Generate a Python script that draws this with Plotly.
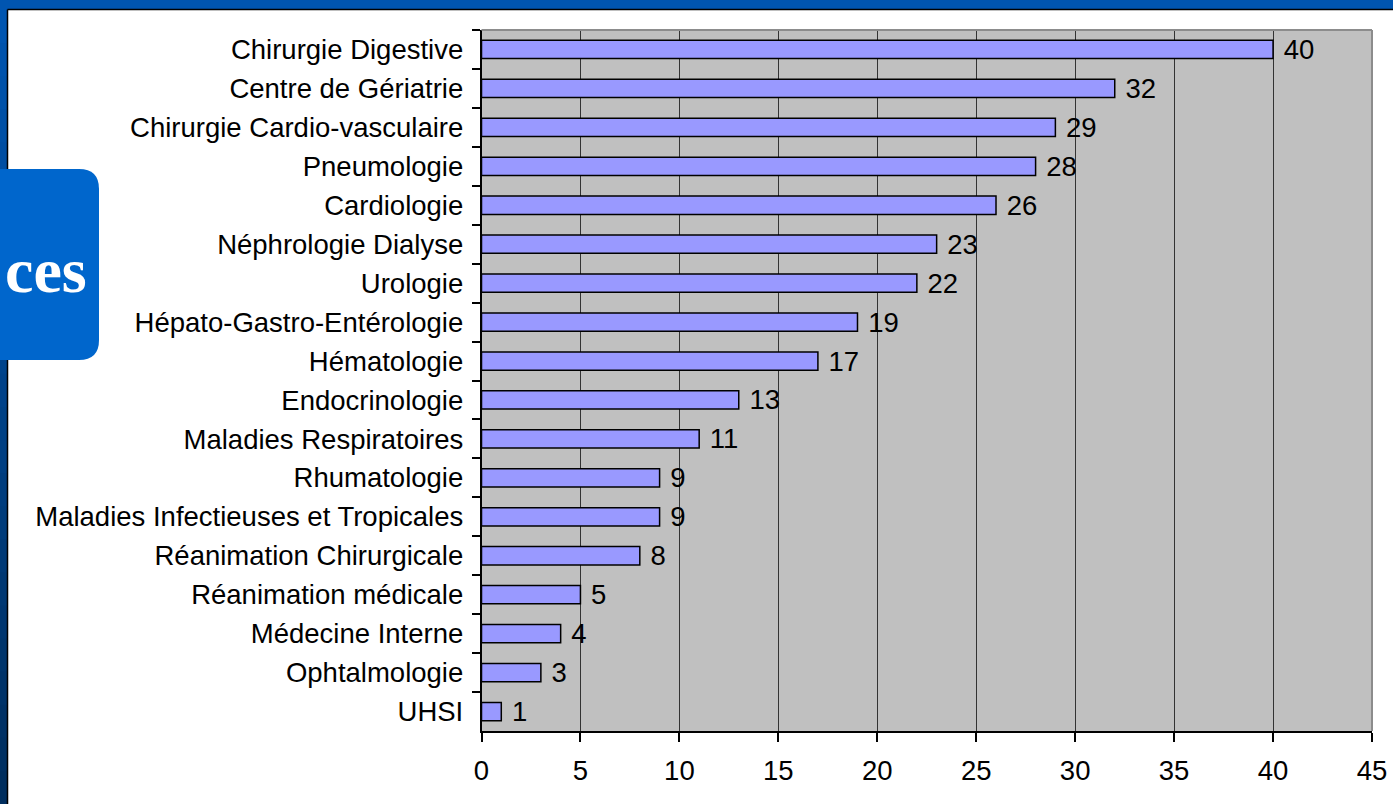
import plotly.graph_objects as go

categories = [
    "Chirurgie Digestive", "Centre de Gériatrie", "Chirurgie Cardio-vasculaire",
    "Pneumologie", "Cardiologie", "Néphrologie Dialyse", "Urologie",
    "Hépato-Gastro-Entérologie", "Hématologie", "Endocrinologie",
    "Maladies Respiratoires", "Rhumatologie", "Maladies Infectieuses et Tropicales",
    "Réanimation Chirurgicale", "Réanimation médicale", "Médecine Interne",
    "Ophtalmologie", "UHSI",
]
values = [40, 32, 29, 28, 26, 23, 22, 19, 17, 13, 11, 9, 9, 8, 5, 4, 3, 1]
x_ticks = [0, 5, 10, 15, 20, 25, 30, 35, 40, 45]
box_text = "ces"

W, H = 1393, 804
def px(x):
    return x / W
def py(y):
    return 1 - y / H

FONT = "Liberation Sans, Arial, sans-serif"
FS = 27.5

fig = go.Figure()
fig.add_trace(go.Bar(
    y=categories, x=values, orientation="h",
    marker=dict(color="#9999FF", line=dict(color="#000000", width=1.5)),
    text=[" " + str(v) for v in values], textposition="outside",
    textfont=dict(family=FONT, size=FS, color="#000000"),
    constraintext="none", cliponaxis=False, width=0.47,
    hoverinfo="skip",
))

shapes = []
# blue slide background
shapes.append(dict(type="rect", xref="paper", yref="paper", x0=0, x1=1, y0=0, y1=1,
                   fillcolor="#0055B0", line=dict(width=0), layer="below"))
# left strip gradient
n = 24
c0 = (0x00, 0x55, 0xB0)
c1 = (0x00, 0x2E, 0x5E)
for i in range(n):
    t = i / (n - 1)
    c = tuple(int(round(a + (b - a) * t)) for a, b in zip(c0, c1))
    shapes.append(dict(type="rect", xref="paper", yref="paper",
                       x0=0, x1=px(8), y0=py(10 + (H - 10) * (i + 1) / n) - 0.001,
                       y1=py(10 + (H - 10) * i / n),
                       fillcolor="rgb(%d,%d,%d)" % c, line=dict(width=0), layer="below"))
# white panel
shapes.append(dict(type="rect", xref="paper", yref="paper", x0=px(8), x1=1, y0=0, y1=py(10),
                   fillcolor="#FFFFFF", line=dict(width=0), layer="below"))
shapes.append(dict(type="line", xref="paper", yref="paper", x0=px(7.5), x1=1, y0=py(9.5), y1=py(9.5),
                   line=dict(color="#000000", width=1.5), layer="below"))
shapes.append(dict(type="line", xref="paper", yref="paper", x0=px(7.5), x1=px(7.5), y0=0, y1=py(9.5),
                   line=dict(color="#000000", width=1.5), layer="below"))
# rounded blue box
bx0, bx1, by0, by1, r = -20, 99, 169, 360, 20
rx, ry = r / W, r / H
path = (f"M {px(bx0)},{py(by0)} L {px(bx1) - rx},{py(by0)} "
        f"Q {px(bx1)},{py(by0)} {px(bx1)},{py(by0) - ry} "
        f"L {px(bx1)},{py(by1) + ry} "
        f"Q {px(bx1)},{py(by1)} {px(bx1) - rx},{py(by1)} "
        f"L {px(bx0)},{py(by1)} Z")
shapes.append(dict(type="path", xref="paper", yref="paper", path=path,
                   fillcolor="#0066CC", line=dict(width=0), layer="below"))
# plot area background (gray) and top/right gray border
x_dom = [px(481.5), px(1372)]
y_dom = [py(731), py(30)]
shapes.append(dict(type="rect", xref="paper", yref="paper", x0=x_dom[0], x1=x_dom[1],
                   y0=y_dom[0], y1=y_dom[1], fillcolor="#C0C0C0", line=dict(width=0),
                   layer="below"))
shapes.append(dict(type="line", xref="paper", yref="paper", x0=x_dom[0], x1=x_dom[1],
                   y0=y_dom[1], y1=y_dom[1], line=dict(color="#8C8C8C", width=2)))
shapes.append(dict(type="line", xref="paper", yref="paper", x0=x_dom[1], x1=x_dom[1],
                   y0=y_dom[0], y1=y_dom[1], line=dict(color="#8C8C8C", width=2)))

fig.update_layout(
    width=W, height=H,
    margin=dict(l=0, r=0, t=0, b=0),
    paper_bgcolor="#FFFFFF", plot_bgcolor="#C0C0C0",
    showlegend=False, bargap=0.53,
    shapes=shapes,
    annotations=[dict(text=box_text, xref="paper", yref="paper", x=px(89), y=py(270),
                      xanchor="right", yanchor="middle", showarrow=False,
                      font=dict(family="Liberation Serif, Times New Roman, serif",
                                size=64, color="#FFFFFF", weight="bold"))],
    xaxis=dict(domain=x_dom, range=[0, 45], tickvals=x_ticks,
               ticktext=[str(t) for t in x_ticks],
               showgrid=True, gridcolor="#333333", gridwidth=1,
               zeroline=False, showline=True, linecolor="#000000", linewidth=1.5,
               ticks="outside", ticklen=9, tickcolor="#000000", tickwidth=1.5,
               ticklabelstandoff=5,
               tickfont=dict(family=FONT, size=FS, color="#000000"),
               automargin=False, fixedrange=True),
    yaxis=dict(domain=y_dom, type="category", categoryorder="array",
               categoryarray=categories, autorange="reversed",
               showgrid=False, zeroline=False, showline=True,
               linecolor="#000000", linewidth=1.5,
               ticks="outside", tickson="boundaries", ticklen=8,
               tickcolor="#000000", tickwidth=1.5,
               ticklabelstandoff=11,
               tickfont=dict(family=FONT, size=FS, color="#000000"),
               automargin=False, fixedrange=True),
)

fig.write_html("out.html", config={"displayModeBar": False},
               post_script="document.body.style.margin='0';document.body.style.overflow='hidden';")
